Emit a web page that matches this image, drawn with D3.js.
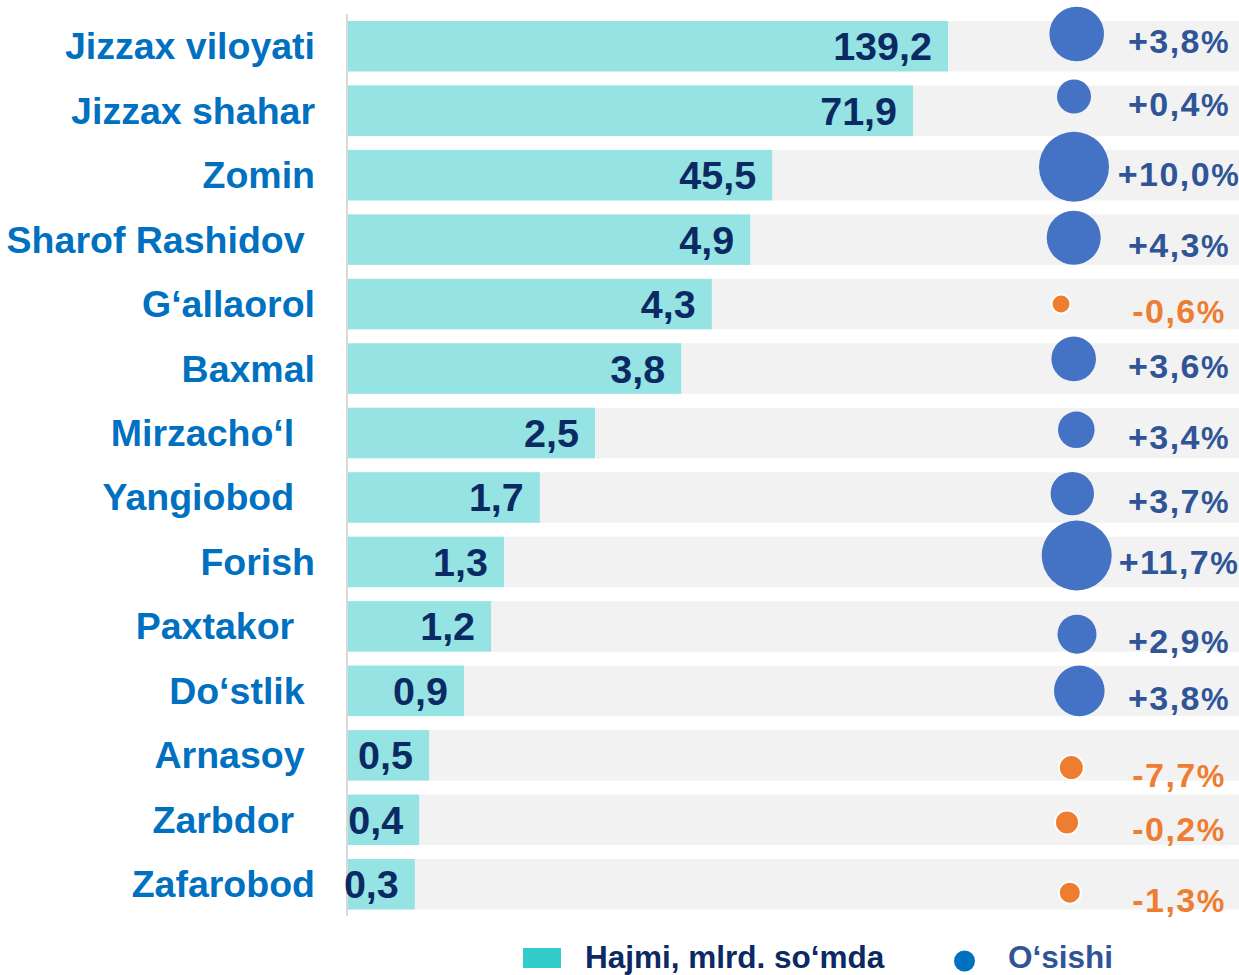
<!DOCTYPE html>
<html><head><meta charset="utf-8">
<script src="https://cdn.jsdelivr.net/npm/d3@7"></script>
<style>
body{margin:0;background:#fff}
text{font-family:"Liberation Sans",Arial,sans-serif;font-weight:bold;white-space:pre}
</style>
</head><body><svg id="c" width="1239" height="975"></svg>
<script>
// ---- data ----
const categories = ["Jizzax viloyati","Jizzax shahar","Zomin","Sharof Rashidov ","G‘allaorol","Baxmal","Mirzacho‘l  ","Yangiobod  ","Forish","Paxtakor  ","Do‘stlik ","Arnasoy ","Zarbdor  ","Zafarobod"];
const volumeLabels = ["139,2","71,9","45,5","4,9","4,3","3,8","2,5","1,7","1,3","1,2","0,9","0,5","0,4","0,3"];
// bar lengths as drawn in the picture (not proportional to the printed labels)
const barLength = [139.2,131.1,98.4,93.3,84.4,77.3,57.3,44.5,36.2,33.2,26.9,18.8,16.5,15.5];
const growth = [3.8,0.4,10.0,4.3,-0.6,3.6,3.4,3.7,11.7,2.9,3.8,-7.7,-0.2,-1.3];
// bubble series (x, y, size) as plotted
const bubbleX = [4.67,4.4,4.4,4.37,3.1,4.37,4.63,4.23,4.67,4.7,4.93,4.13,3.7,3.98];
const bubbleY = [-0.19,0.78,1.87,2.97,4.0,4.85,5.95,6.94,7.9,9.12,10.0,11.19,12.04,13.13];
const bubbleSize = [74.5,28.9,122.5,72.9,9.0,49.7,33.5,47.1,122.5,38,64,15.6,14.4,12.1];
const legendLabels = ["Hajmi, mlrd. so‘mda","O‘sishi"];

// ---- chart ----
const svg = d3.select("#c");
const idx = d3.range(categories.length);

const y = d3.scaleBand().domain(idx).range([21, 909.5]).paddingInner(0.217).paddingOuter(0);
const x = d3.scaleLinear().domain([0,150]).range([348, 348 + 600*150/139.2]);
const bw = y.bandwidth();
const by = d3.scaleLinear().domain([0,13]).range([y(0)+bw/2, y(13)+bw/2]);
const bx = d3.scaleLinear().domain([0,10]).range([1030,1130]);
const r = d3.scaleSqrt().domain([0,122.5]).range([0,35]);

// background bands
svg.append("g").selectAll("rect").data(idx).join("rect")
  .attr("x", 348).attr("y", d=>y(d)).attr("width", 1239-348).attr("height", bw)
  .attr("fill","#f2f2f2");

// bars
svg.append("g").selectAll("rect").data(idx).join("rect")
  .attr("x", x(0)).attr("y", d=>y(d)).attr("width", d=>x(barLength[d])-x(0)).attr("height", bw)
  .attr("fill","#95e3e3");

// axis line
svg.append("line").attr("x1",347).attr("x2",347).attr("y1",14).attr("y2",916)
  .attr("stroke","#d9d9d9").attr("stroke-width",2);

// category axis labels
const ax = svg.append("g").attr("transform","translate(315,0)")
  .call(d3.axisLeft(y).tickSize(0).tickPadding(0).tickFormat(d=>categories[d]));
ax.select(".domain").remove();
ax.selectAll("text").attr("font-size",37.5).attr("fill","#0070c0")
  .attr("font-family",'"Liberation Sans",Arial,sans-serif').attr("font-weight","bold")
  .attr("dy",null).attr("y",13);

// value labels
svg.append("g").selectAll("text").data(idx).join("text")
  .attr("x", d=>x(barLength[d])-16).attr("y", d=>y(d)+bw/2+14)
  .attr("text-anchor","end").attr("font-size",39.5).attr("fill","#0b2a63")
  .text(d=>volumeLabels[d]);

// bubbles
svg.append("g").selectAll("circle").data(idx).join("circle")
  .attr("cx", d=>bx(bubbleX[d])).attr("cy", d=>by(bubbleY[d]))
  .attr("r", d=>r(bubbleSize[d]))
  .attr("fill", d=>growth[d]>=0?"#4472c4":"#ed7d31")
  .attr("stroke", d=>growth[d]>=0?"none":"#fff").attr("stroke-width",2);

// growth labels
const fmt = v => (v>=0?"+":"-") + d3.format(".1f")(Math.abs(v)).replace(".",",");
const gl = svg.append("g").selectAll("text").data(idx).join("text")
  .attr("x", 1179).attr("y", d=>by(bubbleY[d])+19)
  .attr("text-anchor","middle").attr("font-size",34).attr("letter-spacing","1.5px")
  .attr("fill", d=>growth[d]>=0?"#2f5597":"#ed7d31");
gl.append("tspan").text(d=>fmt(growth[d]));
gl.append("tspan").attr("font-size",31).text("%");

// legend
const lg = svg.append("g");
lg.append("rect").attr("x",523).attr("y",948).attr("width",38).attr("height",20).attr("fill","#33cccc");
lg.append("text").attr("x",585).attr("y",968).attr("font-size",31.5).attr("fill","#0b2a63").text(legendLabels[0]);
lg.append("circle").attr("cx",964.5).attr("cy",961).attr("r",10.5).attr("fill","#0070c0");
lg.append("text").attr("x",1008).attr("y",968).attr("font-size",31.5).attr("fill","#2f5597").text(legendLabels[1]);
</script>
</body></html>
